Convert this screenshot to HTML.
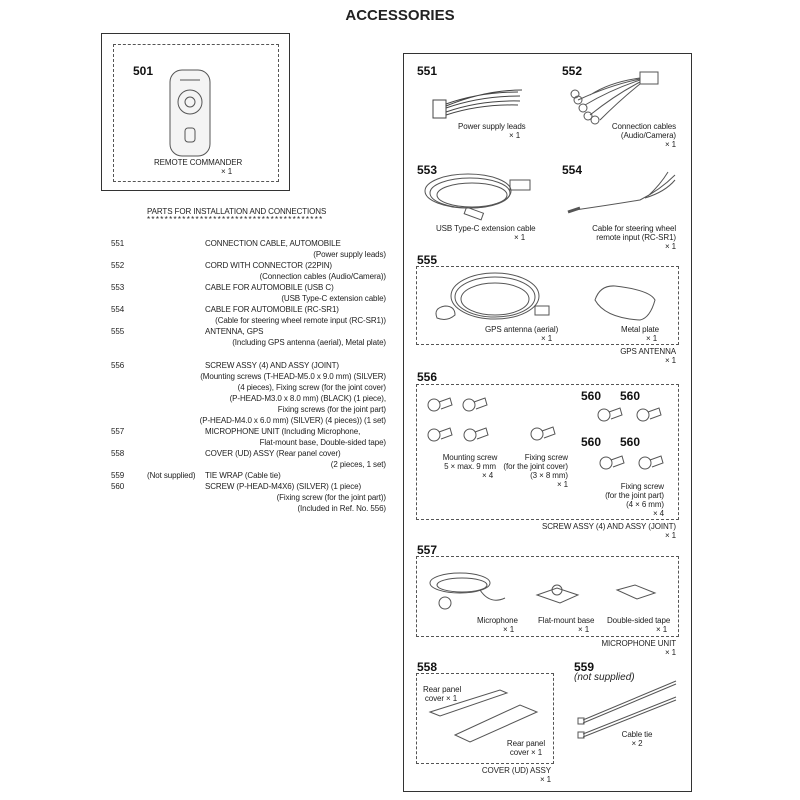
<!DOCTYPE html>
<html><head><meta charset="utf-8"><style>
body{margin:0;width:800px;height:800px;background:#fff;position:relative;overflow:hidden;font-family:"Liberation Sans",sans-serif;color:#222}
.t{position:absolute;font-size:8px;line-height:11px;white-space:nowrap;letter-spacing:-0.1px}
.s{line-height:9px}
.r{text-align:right}
.c{text-align:center}
.n{position:absolute;font-size:12px;font-weight:bold;color:#111}
.d{position:absolute;border:1px dashed #555}
</style></head><body>
<div style="position:absolute;left:0;width:800px;top:7px;text-align:center;font-size:15px;font-weight:bold">ACCESSORIES</div>

<div style="position:absolute;left:101px;top:33px;width:187px;height:156px;border:1px solid #333"></div>
<div class="d" style="left:113px;top:44px;width:164px;height:136px"></div>
<div class="n" style="left:133px;top:64px">501</div>
<div class="t" style="left:154px;top:157px">REMOTE COMMANDER</div>
<div class="t" style="left:221px;top:166px">× 1</div>

<div class="t" style="left:147px;top:206px">PARTS FOR INSTALLATION AND CONNECTIONS</div>
<div class="t" style="left:147px;top:214px;letter-spacing:1.3px">****************************************</div>

<div class="t" style="left:111px;top:238px">551<br>&nbsp;<br>552<br>&nbsp;<br>553<br>&nbsp;<br>554<br>&nbsp;<br>555</div>
<div class="t" style="left:205px;top:238px">CONNECTION CABLE, AUTOMOBILE<br>&nbsp;<br>CORD WITH CONNECTOR (22PIN)<br>&nbsp;<br>CABLE FOR AUTOMOBILE (USB C)<br>&nbsp;<br>CABLE FOR AUTOMOBILE (RC-SR1)<br>&nbsp;<br>ANTENNA, GPS</div>
<div class="t r" style="right:414px;top:238px">&nbsp;<br>(Power supply leads)<br>&nbsp;<br>(Connection cables (Audio/Camera))<br>&nbsp;<br>(USB Type-C extension cable)<br>&nbsp;<br>(Cable for steering wheel remote input (RC-SR1))<br>&nbsp;<br>(Including GPS antenna (aerial), Metal plate)</div>

<div class="t" style="left:111px;top:360px">556<br>&nbsp;<br>&nbsp;<br>&nbsp;<br>&nbsp;<br>&nbsp;<br>557<br>&nbsp;<br>558<br>&nbsp;<br>559<br>560</div>
<div class="t" style="left:147px;top:470px">(Not supplied)</div>
<div class="t" style="left:205px;top:360px">SCREW ASSY (4) AND ASSY (JOINT)</div>
<div class="t r" style="right:414px;top:371px">(Mounting screws (T-HEAD-M5.0 x 9.0 mm) (SILVER)<br>(4 pieces), Fixing screw (for the joint cover)<br>(P-HEAD-M3.0 x 8.0 mm) (BLACK) (1 piece),<br>Fixing screws (for the joint part)<br>(P-HEAD-M4.0 x 6.0 mm) (SILVER) (4 pieces)) (1 set)</div>
<div class="t" style="left:205px;top:426px">MICROPHONE UNIT (Including Microphone,</div>
<div class="t r" style="right:414px;top:437px">Flat-mount base, Double-sided tape)</div>
<div class="t" style="left:205px;top:448px">COVER (UD) ASSY (Rear panel cover)</div>
<div class="t r" style="right:414px;top:459px">(2 pieces, 1 set)</div>
<div class="t" style="left:205px;top:470px">TIE WRAP (Cable tie)<br>SCREW (P-HEAD-M4X6) (SILVER) (1 piece)</div>
<div class="t r" style="right:414px;top:492px">(Fixing screw (for the joint part))<br>(Included in Ref. No. 556)</div>

<div style="position:absolute;left:403px;top:53px;width:287px;height:737px;border:1px solid #333"></div>
<div class="n" style="left:417px;top:64px">551</div>
<div class="n" style="left:562px;top:64px">552</div>
<div class="t s" style="left:458px;top:122px">Power supply leads</div>
<div class="t s" style="left:509px;top:131px">× 1</div>
<div class="t r s" style="right:124px;top:122px">Connection cables<br>(Audio/Camera)<br>× 1</div>
<div class="n" style="left:417px;top:163px">553</div>
<div class="n" style="left:562px;top:163px">554</div>
<div class="t s" style="left:436px;top:224px">USB Type-C extension cable</div>
<div class="t s" style="left:514px;top:233px">× 1</div>
<div class="t r s" style="right:124px;top:224px">Cable for steering wheel<br>remote input (RC-SR1)<br>× 1</div>
<div class="n" style="left:417px;top:253px">555</div>
<div class="d" style="left:416px;top:266px;width:261px;height:77px"></div>
<div class="t s" style="left:485px;top:325px">GPS antenna (aerial)</div>
<div class="t s" style="left:541px;top:334px">× 1</div>
<div class="t s" style="left:621px;top:325px">Metal plate</div>
<div class="t s" style="left:646px;top:334px">× 1</div>
<div class="t r s" style="right:124px;top:347px">GPS ANTENNA<br>× 1</div>

<div class="n" style="left:417px;top:370px">556</div>
<div class="d" style="left:416px;top:384px;width:261px;height:134px"></div>
<div class="n" style="left:581px;top:389px">560</div>
<div class="n" style="left:620px;top:389px">560</div>
<div class="n" style="left:581px;top:435px">560</div>
<div class="n" style="left:620px;top:435px">560</div>
<div class="t c s" style="left:440px;top:453px;width:60px">Mounting screw<br>5 × max. 9 mm</div>
<div class="t s" style="left:482px;top:471px">× 4</div>
<div class="t r s" style="right:232px;top:453px">Fixing screw<br>(for the joint cover)<br>(3 × 8 mm)<br>× 1</div>
<div class="t r s" style="right:136px;top:482px">Fixing screw<br>(for the joint part)<br>(4 × 6 mm)<br>× 4</div>
<div class="t r s" style="right:124px;top:522px">SCREW ASSY (4) AND ASSY (JOINT)<br>× 1</div>

<div class="n" style="left:417px;top:543px">557</div>
<div class="d" style="left:416px;top:556px;width:261px;height:79px"></div>
<div class="t s" style="left:477px;top:616px">Microphone</div>
<div class="t s" style="left:503px;top:625px">× 1</div>
<div class="t s" style="left:538px;top:616px">Flat-mount base</div>
<div class="t s" style="left:578px;top:625px">× 1</div>
<div class="t s" style="left:607px;top:616px">Double-sided tape</div>
<div class="t s" style="left:656px;top:625px">× 1</div>
<div class="t r s" style="right:124px;top:639px">MICROPHONE UNIT<br>× 1</div>

<div class="n" style="left:417px;top:660px">558</div>
<div class="d" style="left:416px;top:673px;width:136px;height:89px"></div>
<div class="t c s" style="left:423px;top:685px;width:36px">Rear panel<br>cover × 1</div>
<div class="t c s" style="left:504px;top:739px;width:44px">Rear panel<br>cover × 1</div>
<div class="t r s" style="right:249px;top:766px">COVER (UD) ASSY<br>× 1</div>
<div class="n" style="left:574px;top:660px">559</div>
<div style="position:absolute;left:574px;top:672px;font-size:10px;font-style:italic">(not supplied)</div>
<div class="t c s" style="left:617px;top:730px;width:40px">Cable tie<br>× 2</div>

<svg width="800" height="800" style="position:absolute;left:0;top:0" fill="none" stroke="#555" stroke-width="1">
<rect x="170" y="70" width="40" height="86" rx="12" fill="#f4f4f4"/>
<circle cx="190" cy="102" r="12"/><circle cx="190" cy="102" r="5"/>
<rect x="185" y="128" width="10" height="14" rx="3"/>
<line x1="180" y1="80" x2="200" y2="80"/>
<g stroke="#444"><path d="M433 100 L433 118 L446 118 L446 100 Z"/>
<path d="M446 104 Q480 92 518 92 M446 108 Q480 96 520 96 M446 112 Q480 100 520 101 M446 115 Q480 104 518 105 M446 106 Q485 90 522 90"/></g>
<g><rect x="640" y="72" width="18" height="12"/><path d="M640 78 Q610 82 590 95 M640 80 Q610 90 585 105 M640 82 Q615 95 590 115 M640 84 Q620 100 600 120 M640 79 Q610 85 578 100"/>
<circle cx="578" cy="100" r="4"/><circle cx="583" cy="108" r="4"/><circle cx="588" cy="116" r="4"/><circle cx="595" cy="120" r="4"/><circle cx="575" cy="94" r="4"/></g>
<g><ellipse cx="470" cy="193" rx="40" ry="15"/><ellipse cx="472" cy="195" rx="35" ry="12"/><ellipse cx="468" cy="191" rx="43" ry="17"/>
<rect x="510" y="180" width="20" height="10"/><rect x="465" y="210" width="18" height="7" transform="rotate(20 474 213)"/></g>
<g><path d="M575 210 Q610 205 640 200 Q660 190 675 175 M645 198 Q665 192 675 180 M648 196 Q660 185 668 172"/><path d="M568 212 L580 208" stroke-width="3"/></g>
<g><ellipse cx="495" cy="297" rx="40" ry="20"/><ellipse cx="495" cy="299" rx="34" ry="16"/><ellipse cx="495" cy="296" rx="44" ry="23"/>
<path d="M437 318 Q433 308 445 306 Q455 306 455 315 Q447 322 437 318Z" fill="#fff"/>
<rect x="535" y="306" width="14" height="9"/>
<path d="M595 300 Q600 285 615 286 Q650 290 655 300 Q650 318 640 320 Q605 318 595 300Z"/></g>
<g id="s"><circle cx="434" cy="405" r="6"/><path d="M439 402 L450 398 L452 405 L441 409"/></g>
<use href="#s" x="35" y="0"/><use href="#s" x="0" y="30"/><use href="#s" x="36" y="30"/><use href="#s" x="103" y="29"/>
<use href="#s" x="170" y="10"/><use href="#s" x="209" y="10"/><use href="#s" x="172" y="58"/><use href="#s" x="211" y="58"/>
<g><ellipse cx="460" cy="583" rx="30" ry="10"/><ellipse cx="462" cy="585" rx="25" ry="7"/><path d="M480 590 Q490 605 505 598"/>
<circle cx="445" cy="603" r="6"/>
<path d="M537 595 L557 588 L578 595 L560 603 Z"/><circle cx="557" cy="590" r="5"/>
<path d="M617 590 L635 585 L655 593 L637 599 Z"/></g>
<g><path d="M430 712 L500 690 L507 693 L440 716 Z"/><path d="M455 735 L520 705 L537 712 L470 742 Z"/></g>
<g><path d="M583 720 L676 681 M583 723 L676 684"/><path d="M583 734 L676 697 M583 737 L676 700"/><rect x="578" y="718" width="6" height="6"/><rect x="578" y="732" width="6" height="6"/></g>
</svg>
</body></html>
